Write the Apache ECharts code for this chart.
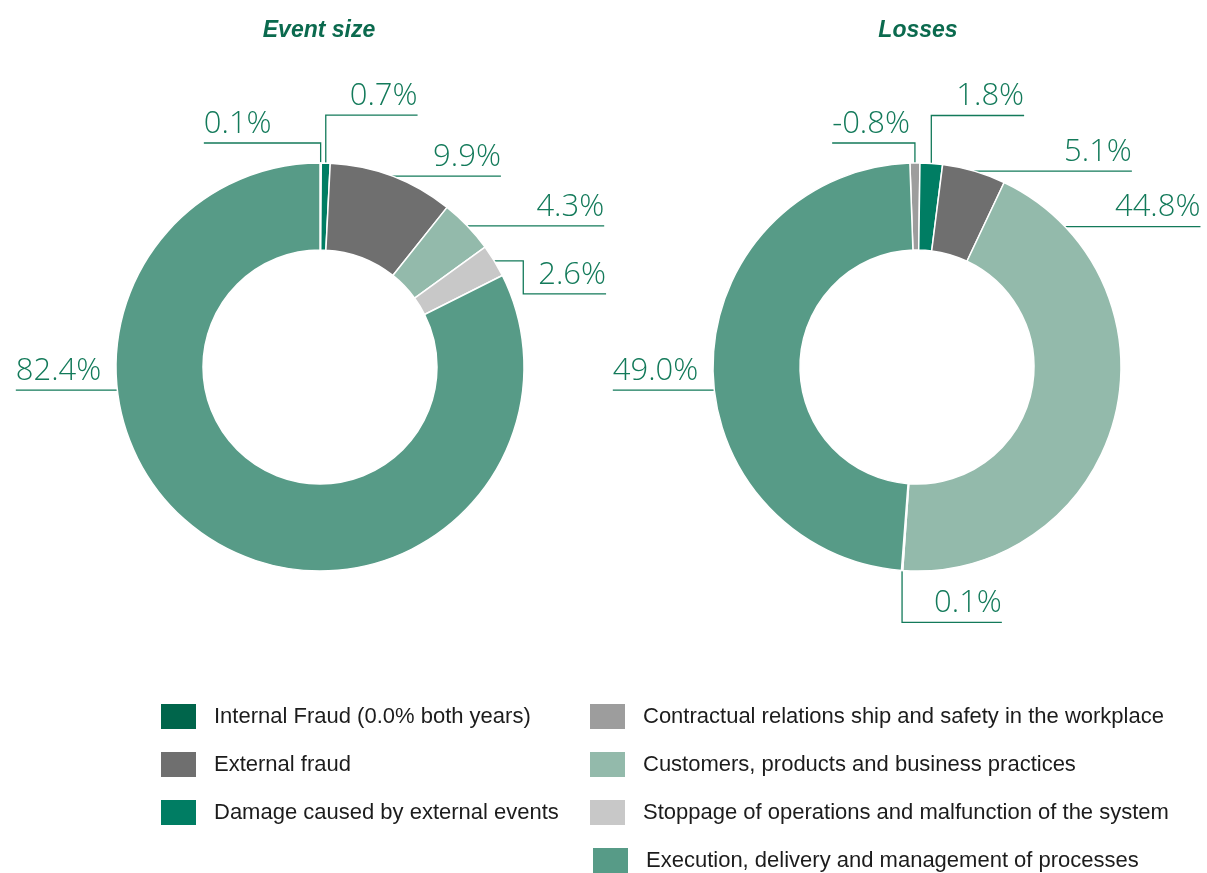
<!DOCTYPE html>
<html><head><meta charset="utf-8">
<script src="https://cdn.jsdelivr.net/npm/echarts@6/dist/echarts.min.js"></script>
<style>html,body{margin:0;padding:0;background:#fff}#chart{width:1207px;height:873px}</style>
</head><body><div id="chart"></div>
<script>
// ---------- data ----------
const titles = ['Event size', 'Losses'];
const categories = [
  'Internal Fraud (0.0% both years)',
  'Contractual relations ship and safety in the workplace',
  'Damage caused by external events',
  'External fraud',
  'Customers, products and business practices',
  'Stoppage of operations and malfunction of the system',
  'Execution, delivery and management of processes'
];
const eventSize = [0.0, 0.1, 0.7, 9.9, 4.3, 2.6, 82.4];
const losses = [0.0, -0.8, 1.8, 5.1, 44.8, 0.1, 49.0];
const legendCol1 = [categories[0], categories[3], categories[2]];
const legendCol2 = [categories[1], categories[4], categories[5]];
const legendCol3 = [categories[6]];

// ---------- style ----------
const sliceColors = ['#00654b', '#9d9d9d', '#007d63', '#6f6f6f', '#93baab', '#c8c8c8', '#579b87'];
const labelColor = '#137a5a';
const labelFont = { family: 'Open Sans', weight: 300, size: 31 };
const R0 = 117, R1 = 204;
const centers = [[320, 367], [917, 367]];
const startAngles = [90, 92];
const labelLift = 2;
// label leader routes: h = first horizontal run, v = vertical run, dir = side, gap = elbow-to-text gap, angle = anchor override
const leftSpecs = [null, {v:-20,dir:-1,gap:49}, {v:-48,dir:1,gap:24}, {dir:1,gap:41}, {dir:1,gap:69}, {h:29,v:33,dir:1,gap:15}, {angle:263.5,dir:-1,gap:16}];
const rightSpecs = [null, {v:-20,dir:-1,gap:5}, {v:-48,dir:1,gap:25}, {dir:1,gap:90}, {angle:46.5,dir:1,gap:50}, {v:52,dir:1,gap:32}, {angle:263.5,dir:-1,gap:16}];

const mctx = document.createElement('canvas').getContext('2d');
function textWidth(s) {
  mctx.font = labelFont.weight + ' ' + labelFont.size + 'px "' + labelFont.family + '"';
  return mctx.measureText(s).width;
}

function makeLabelLayout(specs, center) {
  return function (params) {
    const s = specs[params.dataIndex];
    if (!s || !params.labelLinePoints) return {};
    let ax, ay;
    if (s.angle != null) {
      const a = s.angle * Math.PI / 180;
      ax = center[0] + R1 * Math.sin(a);
      ay = center[1] - R1 * Math.cos(a);
    } else {
      ax = params.labelLinePoints[0][0];
      ay = params.labelLinePoints[0][1];
    }
    const dir = s.dir;
    const p0 = [ax, ay];
    const p1 = [ax + dir * (s.h || 0), ay];
    const p2 = [p1[0], ay + (s.v || 0)];
    const near = p2[0] + dir * s.gap;
    const far = near + dir * textWidth(params.text);
    return {
      x: near, y: p2[1] - labelLift,
      align: dir > 0 ? 'left' : 'right', verticalAlign: 'bottom',
      labelLinePoints: [p0, p1, p2, [far, p2[1]]]
    };
  };
}

function pieSeries(values, idx, specs) {
  return {
    type: 'pie',
    name: titles[idx],
    center: centers[idx],
    radius: [R0, R1],
    startAngle: startAngles[idx],
    clockwise: true,
    avoidLabelOverlap: false,
    silent: true,
    itemStyle: { borderColor: '#fff', borderWidth: 1.5 },
    label: {
      show: true, position: 'outside', overflow: 'none',
      color: labelColor, fontFamily: labelFont.family, fontWeight: labelFont.weight,
      fontSize: labelFont.size, lineHeight: 34,
      formatter: p => p.data.raw.toFixed(1) + '%'
    },
    labelLine: { show: true, length: 10, length2: 10, lineStyle: { color: labelColor, width: 1.3 } },
    labelLayout: makeLabelLayout(specs, centers[idx]),
    data: categories.map((c, i) => ({
      name: c,
      value: Math.abs(values[i]),
      raw: values[i],
      itemStyle: { color: sliceColors[i] },
      label: { show: values[i] !== 0 },
      labelLine: { show: values[i] !== 0 }
    }))
  };
}

const legendCommon = {
  orient: 'vertical', itemWidth: 35, itemHeight: 25, itemGap: 23, icon: 'rect', padding: 0,
  selectedMode: false,
  itemStyle: { borderWidth: 0 },
  textStyle: { fontFamily: 'Liberation Sans', fontSize: 22, color: '#1c1c1c', padding: [0, 0, 0, 13] }
};

const titleStyle = { fontFamily: 'Liberation Sans', fontSize: 23, fontWeight: 'bold', fontStyle: 'italic', color: '#0b6a4e' };

const chart = echarts.init(document.getElementById('chart'), null, { renderer: 'canvas' });
chart.setOption({
  backgroundColor: '#fff',
  animation: false,
  title: [
    { text: titles[0], left: 319, top: 19, padding: 0, textAlign: 'center', textStyle: titleStyle },
    { text: titles[1], left: 918, top: 19, padding: 0, textAlign: 'center', textStyle: titleStyle }
  ],
  legend: [
    Object.assign({}, legendCommon, { left: 161, top: 704, data: legendCol1 }),
    Object.assign({}, legendCommon, { left: 590, top: 704, data: legendCol2 }),
    Object.assign({}, legendCommon, { left: 593, top: 848, data: legendCol3 })
  ],
  series: [
    pieSeries(eventSize, 0, leftSpecs),
    pieSeries(losses, 1, rightSpecs)
  ]
});
</script>
</body></html>
